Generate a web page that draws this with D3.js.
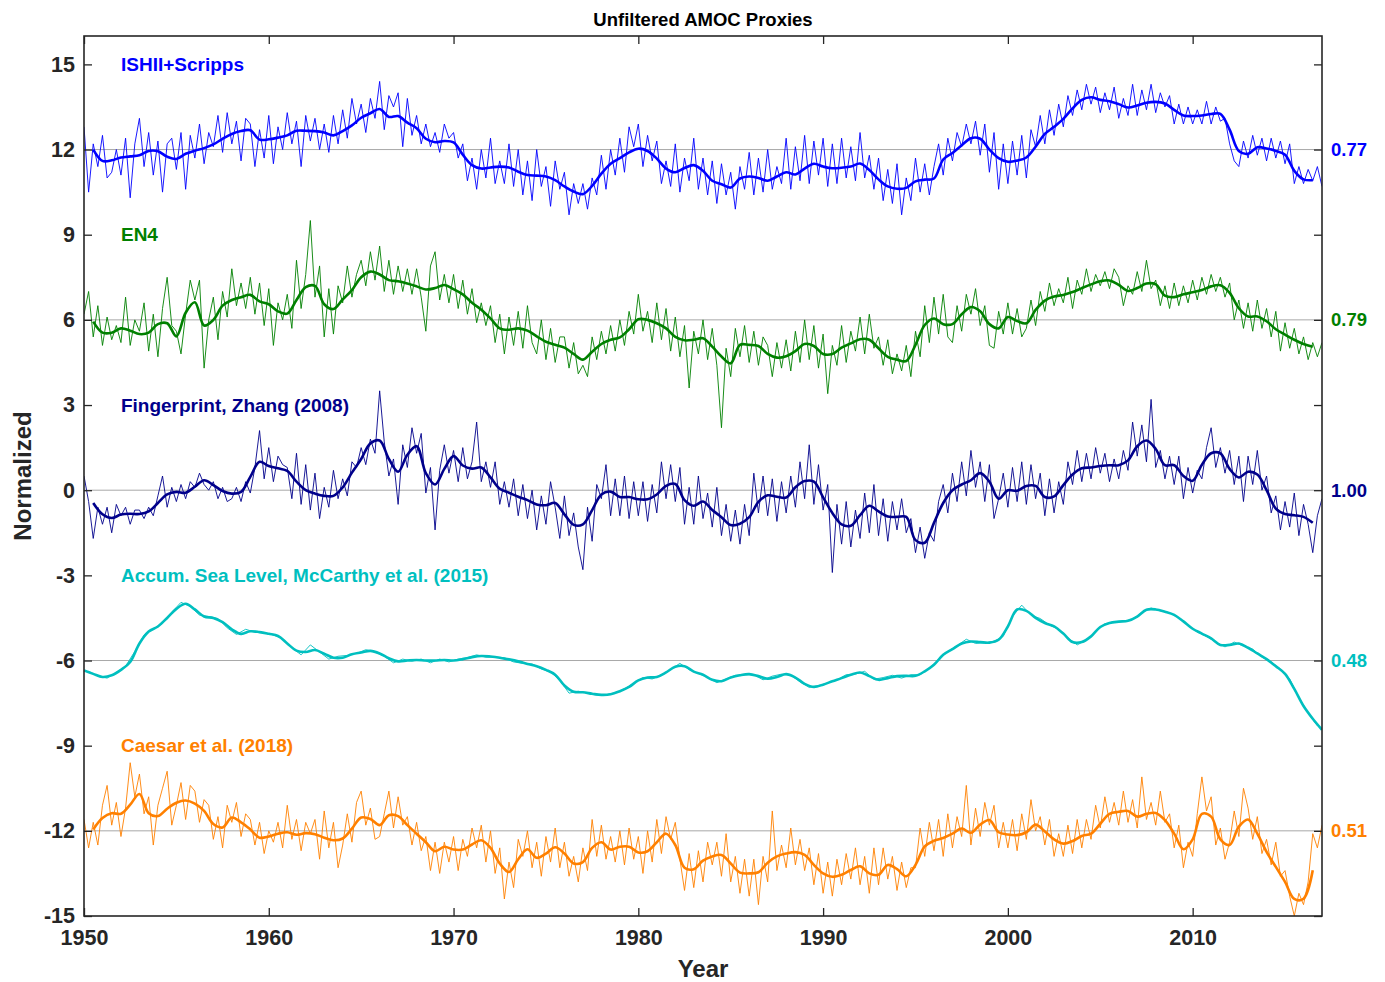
<!DOCTYPE html>
<html>
<head>
<meta charset="utf-8">
<script src="https://cdn.jsdelivr.net/npm/d3@7"></script>
<style>
body { margin: 0; background: #fff; }
text { font-family: "Liberation Sans", Arial, Helvetica, sans-serif; font-weight: bold; }
</style>
</head>
<body>
<svg id="chart" width="1385" height="982"></svg>
<script>
// proxy names, vertical offsets and the correlations written on the right
var names = ["ISHII+Scripps", "EN4", "Fingerprint, Zhang (2008)", "Accum. Sea Level, McCarthy et al. (2015)", "Caesar et al. (2018)"];
var offsets = [12, 6, 0, -6, -12];
var corrLabels = ["0.77", "0.79", "1.00", "0.48", "0.51"];
var yTicks = [-15, -12, -9, -6, -3, 0, 3, 6, 9, 12, 15];
var xTicks = [1950, 1960, 1970, 1980, 1990, 2000, 2010];

// raw series, 4 values a year from 1950.0 (normalized, before offset)
var ishiiRaw = [
 0.8,-1.5,0.2,-0.6, 0.5,-1.0,-0.8,0.0, -0.9,0.4,-1.7,0.2, 1.1,-0.6,0.6,-0.9, 0.3,-1.5,0.2,0.4,
 -0.7,0.6,-1.4,0.5, -0.3,0.9,-0.5,0.6, 0.1,1.2,-0.1,1.3, 0.2,1.0,-0.4,1.1, 0.9,-0.6,0.7,-0.3,
 1.2,-0.5,0.8,0.0, 1.3,0.2,1.0,-0.6, 1.2,0.3,1.1,0.0, 0.9,-0.1,1.2,0.2, 1.4,0.4,1.8,0.9,
 1.6,0.6,1.8,1.1, 2.4,0.7,1.9,1.5, 2.0,0.1,1.8,0.5, 1.2,0.2,0.9,0.1, 0.6,-0.1,0.9,0.4,
 0.6,-0.3,0.2,-1.1, -0.3,-1.4,0.0,-1.0, 0.4,-1.2,-0.4,-1.2, 0.2,-1.3,0.0,-1.6, -0.4,-1.8,0.0,-1.3,
 -0.6,-2.0,-0.4,-1.4, -0.8,-2.3,-1.2,-1.9, -1.2,-2.1,-1.0,-1.6, -0.2,-1.4,0.0,-0.9, 0.4,-0.8,0.8,0.1,
 0.9,-0.6,0.5,-0.4, 0.3,-1.2,-0.4,-1.3, 0.2,-1.5,-0.3,-1.1, 0.4,-1.4,-0.3,-1.6, -0.4,-1.9,-0.5,-1.6,
 -0.8,-2.1,-0.6,-1.4, -0.1,-1.6,-0.3,-1.5, 0.0,-1.4,-0.6,-1.2, 0.4,-1.4,0.1,-1.1, 0.5,-1.2,0.3,-0.9,
 0.4,-1.3,0.2,-1.2, 0.4,-1.0,0.1,-1.1, 0.6,-1.0,-0.2,-1.4, -0.3,-1.8,-0.7,-1.9, -0.5,-2.3,-1.0,-1.8,
 -0.3,-1.5,-0.5,-1.6, -0.6,0.2,-0.9,0.4, -0.4,0.6,0.1,0.9, 0.2,1.0,-0.2,0.9, -0.8,0.6,-1.4,0.2,
 -1.2,0.3,-0.9,0.5, -1.0,0.7,0.1,1.2, 0.2,1.4,0.5,1.6, 0.8,1.9,1.2,2.1, 1.4,2.3,1.6,2.2,
 1.3,2.0,1.4,2.2, 1.1,1.8,1.2,2.3, 1.2,2.1,1.4,2.3, 1.3,2.0,1.5,1.9, 0.9,1.6,0.9,1.5,
 0.9,1.4,0.9,1.7, 0.9,1.5,1.0,1.1, 0.2,-0.4,-0.6,0.3, -0.3,0.5,-0.2,0.4, -0.4,0.4,-0.3,0.3,
 -0.5,0.2,-1.2,-0.6, -1.2,-0.7,-1.1,-0.6, -1.3
];
var en4Raw = [
 0.2,1.0,-0.6,0.5, -0.9,0.1,-0.7,-0.2, -0.8,0.8,-0.9,0.0, -0.4,0.6,-1.1,0.2, -1.3,0.4,1.5,-0.2,
 -0.4,-1.2,0.2,1.4, 0.7,1.4,-1.7,0.0, 0.8,-0.7,1.0,0.1, 1.8,0.5,1.3,0.4, 1.5,0.2,1.3,-0.2,
 1.1,-0.9,0.6,0.0, 0.9,-0.3,2.1,0.4, 1.6,3.5,0.8,1.9, -0.6,1.1,-0.5,1.2, 0.6,1.9,0.8,1.6,
 2.1,1.2,2.4,1.4, 2.6,1.0,2.1,0.9, 1.9,1.0,1.8,0.9, 1.8,0.8,-0.4,1.9, 2.4,0.7,1.6,0.6,
 1.6,0.4,1.4,0.2, 1.1,-0.1,0.6,-0.2, 0.5,-0.8,0.2,-1.2, 0.1,-0.9,0.3,-1.0, 0.5,-0.8,-1.2,0.0,
 -1.4,-0.3,-1.5,-0.6, -0.6,-1.7,-0.8,-1.9, -1.6,-2.0,-0.6,-1.4, -0.4,-1.2,-0.2,-1.1, 0.0,-0.9,0.3,-0.5,
 0.9,-0.4,0.3,-0.8, 0.6,-0.7,0.4,-1.1, 0.1,-1.3,-0.2,-2.4, -0.4,-1.2,0.0,-1.4, -0.3,-1.6,-3.8,-1.0,
 -2.0,-0.3,-1.3,-0.2, -1.5,-0.4,-1.6,-0.6, -0.9,-2.0,-0.8,-1.7, -0.7,-1.8,-0.4,-1.5, 0.0,-1.4,-0.2,-1.7,
 -0.5,-2.6,-0.9,-1.6, -0.2,-1.5,-0.4,-1.1, 0.1,-1.2,0.2,-1.0, -0.6,-1.6,-0.7,-1.9, -1.2,-1.8,-0.9,-2.0,
 -0.4,-1.3,0.5,-0.8, 0.8,-0.5,0.9,-0.6, -0.8,0.5,-0.4,0.9, 0.2,1.1,-0.2,0.5, -0.9,-1.0,0.3,-0.5,
 0.6,-0.5,0.4,-0.6, -0.3,0.7,-0.2,1.0, 0.3,1.3,0.5,1.1, 0.6,1.5,0.4,1.4, 0.9,1.8,1.0,1.6,
 1.2,1.7,1.1,1.8, 1.5,0.5,1.2,0.9, 1.7,1.0,2.1,1.1, 1.4,0.5,1.2,0.4, 1.3,0.5,1.2,0.6,
 1.4,0.7,1.5,0.9, 1.6,1.0,1.5,0.8, 1.3,0.0,0.7,-0.3, 0.6,-0.4,0.7,-0.3, 0.4,-0.6,0.3,-1.1,
 -0.1,-1.0,-0.3,-1.2, -0.6,-1.4,-0.8,-1.3, -0.8
];
var fingerprintRaw = [
 0.5,-0.4,-1.7,-0.6, -1.2,-0.6,-1.5,-0.5, -0.9,-0.6,-1.2,-0.7, -0.7,-1.0,-0.6,-0.9, -0.2,0.5,-0.6,0.1,
 -0.4,0.2,-0.3,0.3, 0.1,0.6,0.2,0.0, 0.3,-0.3,0.1,-0.4, -0.3,0.1,-0.4,0.3, -0.1,0.8,2.1,0.4,
 1.5,0.3,1.2,0.9, 0.8,-0.3,1.3,-0.5, 0.9,-0.7,0.6,-1.0, 0.1,-0.6,0.7,-0.3, 0.4,-0.2,1.0,0.8,
 1.5,0.9,1.8,1.3, 3.5,1.7,0.5,1.1, -0.5,1.6,0.8,2.2, 1.3,2.0,-0.1,0.8, -1.4,0.7,1.6,0.6,
 1.4,0.3,1.5,0.4, 1.0,2.4,0.3,1.0, 0.1,1.0,-0.5,0.3, -0.6,0.4,-0.9,0.2, -1.0,0.0,-1.4,-0.2,
 -1.2,0.3,-0.6,-1.7, -0.2,-1.6,-0.8,-2.0, -2.8,-0.6,-1.8,0.2, -0.3,0.9,-0.9,0.4, -0.9,0.5,-1.0,0.3,
 -0.9,0.3,-1.1,0.2, -0.8,1.0,-0.3,0.9, -0.4,0.8,-1.2,0.1, -1.2,0.5,-1.0,-0.1, -1.3,0.1,-1.6,-0.5,
 -1.8,-0.7,-1.9,-0.5, -1.6,0.6,-0.8,0.5, -0.9,0.4,-1.1,0.3, -0.8,0.5,-0.6,1.0, -0.3,1.6,-0.5,0.9,
 -0.7,0.2,-2.9,-0.5, -1.9,-0.4,-2.0,-0.7, -1.7,-0.1,-1.5,0.2, -1.6,-0.3,-1.8,-0.4, -1.4,-0.3,-1.5,-1.0,
 -2.2,-1.3,-2.4,-1.5, -1.8,-0.4,0.2,-0.8, 0.6,-0.4,1.0,-0.2, 1.4,0.1,1.0,-0.4, 0.9,-1.0,-0.3,0.6,
 -0.6,0.8,-0.4,1.0, -0.5,0.9,-0.3,0.6, -0.9,0.4,-0.8,0.3, -0.5,1.0,0.2,1.4, 0.3,1.3,0.4,1.5,
 0.6,1.3,0.3,1.1, 0.4,1.4,0.7,2.4, 1.2,2.3,1.0,3.2, 0.8,1.4,0.4,1.2, 0.2,1.2,-0.3,0.8,
 -0.1,0.7,0.4,1.5, 2.2,0.8,1.5,0.6, 1.4,0.2,1.2,-0.4, 1.2,0.2,1.4,0.0, 0.5,-0.8,-0.2,-1.4,
 -0.4,-1.3,-0.1,-1.6, -0.5,-1.2,-2.2,-0.9, -0.3
];
// sea level raw, 2 values a year from 1950.25
var seaLevelRaw = [
 -0.38,-0.55, -0.62,-0.42, -0.2,0.32, 0.9,1.12, 1.3,1.7, 2.05,1.9, 1.6,1.55, 1.48,1.15, 0.92,1.1, 1.0,0.98,
 0.9,0.75, 0.45,0.2, 0.55,0.3, 0.05,0.15, 0.18,0.25, 0.38,0.3, 0.15,-0.08, 0.05,-0.02, 0.05,-0.08, 0.05,-0.05,
 0.05,0.1, 0.2,0.12, 0.12,0.1, -0.05,-0.1, -0.12,-0.3, -0.4,-0.7, -1.15,-1.08, -1.15,-1.22, -1.2,-1.14, -1.0,-0.8,
 -0.6,-0.65, -0.5,-0.32, -0.1,-0.32, -0.45,-0.6, -0.78,-0.65, -0.52,-0.5, -0.5,-0.68, -0.55,-0.48, -0.52,-0.75, -0.95,-0.88,
 -0.8,-0.68, -0.5,-0.48, -0.38,-0.66, -0.6,-0.52, -0.62,-0.5, -0.5,-0.28, 0.05,0.32, 0.52,0.75, 0.6,0.62, 0.68,0.85,
 1.55,1.95, 1.6,1.48, 1.25,1.1, 0.8,0.55, 0.72,1.0, 1.3,1.35, 1.38,1.45, 1.7,1.85, 1.75,1.68, 1.5,1.25,
 1.0,0.85, 0.65,0.48, 0.65,0.5, 0.4,0.12, -0.05,-0.3, -0.65,-1.3, -1.85,-2.3
];
var caesarRaw = [
 0.4,-0.6,0.3,-0.5, 0.9,1.6,0.2,1.0, -0.2,0.8,2.4,1.2, 2.0,0.6,1.2,-0.5, 0.9,1.5,2.1,0.2,
 0.9,1.7,0.4,1.6, 1.4,0.3,1.1,0.9, -0.3,0.5,-0.6,0.9, 0.3,1.0,-0.2,0.6, 0.4,-0.5,0.3,-0.8,
 0.0,-0.4,0.3,-0.6, 0.9,-0.3,0.4,-0.7, 0.3,-0.1,0.4,-1.0, 0.7,-0.6,0.3,-1.3, -0.5,0.6,-0.4,1.0,
 1.4,0.2,0.8,-0.3, -0.2,0.6,1.4,0.1, 1.2,0.2,0.5,-0.5, 0.3,-0.7,-0.2,-1.4, -0.4,-1.5,-0.4,-1.1,
 -0.2,-1.4,-0.3,-0.9, 0.1,-0.6,0.2,-1.1, 0.0,-1.5,-0.6,-2.4, -1.1,-2.0,-0.3,-0.9, 0.0,-1.3,-0.4,-1.6,
 -0.2,-1.1,0.1,-1.3, -0.4,-1.6,-0.9,-1.8, -0.6,-1.4,0.4,-0.9, 0.2,-1.0,-0.2,-1.1, 0.0,-1.2,0.1,-1.0,
 -0.2,-1.5,0.0,-1.1, 0.4,-0.8,0.5,-0.3, 0.3,-1.0,-2.1,-0.8, -2.0,-0.7,-1.8,-0.4, -1.2,-0.4,-1.6,-0.1,
 -1.8,-0.9,-2.2,-1.0, -2.3,-1.0,-2.6,-0.9, -1.8,0.7,-1.4,-0.5, -1.3,0.1,-1.2,-0.3, -1.4,-0.6,-1.9,-0.8,
 -2.2,-1.1,-2.3,-1.0, -1.9,-0.8,-1.7,-0.6, -1.9,-0.9,-2.2,-0.6, -1.9,-0.6,-1.7,-0.9, -2.1,-1.1,-2.0,-1.3,
 -1.3,0.1,-0.9,0.3, -0.7,0.4,-0.9,0.6, -0.6,0.5,-0.2,1.6, -0.5,0.8,-0.2,1.0, 0.2,0.9,-0.6,0.3,
 -0.6,0.4,-0.7,0.6, -0.3,1.1,0.0,0.5, -0.5,0.4,-0.9,-0.1, -0.9,0.2,-0.8,0.4, -0.6,0.4,-0.3,0.9,
 0.1,1.2,0.3,1.0, 0.2,1.4,0.3,1.1, 0.1,1.9,0.4,1.0, 0.2,1.4,0.3,0.6, -0.6,0.2,-1.3,-0.4,
 -0.9,0.6,1.9,0.7, 1.2,-0.5,0.1,-1.0, -0.4,0.7,-0.2,1.5, 0.8,-0.3,0.5,-0.8, -0.3,-1.2,-0.4,-1.6,
 -1.4,-2.3,-3.0,-2.2, -2.6,-1.8,-0.1,-0.6, 0.2
];

// smoothed series, 2 values a year from 1950.5 (sea level from 1950.0)
var ishiiSmooth = [
 0.0, -0.4,-0.38, -0.28,-0.24, -0.2,-0.05, -0.06,-0.25, -0.33,-0.15, -0.04,0.05, 0.18,0.38, 0.55,0.65, 0.68,0.35,
 0.36,0.42, 0.5,0.66, 0.66,0.65, 0.6,0.5, 0.65,0.85, 1.12,1.28, 1.43,1.15, 1.18,0.95, 0.75,0.38, 0.26,0.3,
 0.25,-0.18, -0.55,-0.67, -0.63,-0.6, -0.63,-0.78, -0.9,-0.92, -0.95,-1.08, -1.3,-1.48, -1.57,-1.28, -0.85,-0.5, -0.3,-0.1,
 0.03,-0.05, -0.32,-0.67, -0.8,-0.65, -0.55,-0.75, -1.1,-1.22, -1.34,-1.02, -0.95,-1.0, -1.1,-0.95, -0.8,-0.88, -0.67,-0.5,
 -0.6,-0.66, -0.64,-0.6, -0.49,-0.72, -1.05,-1.3, -1.38,-1.35, -1.12,-1.06, -1.02,-0.35, -0.12,0.15, 0.4,0.38, 0.0,-0.3,
 -0.43,-0.39, -0.28,0.1, 0.55,0.8, 1.08,1.45, 1.75,1.84, 1.75,1.7, 1.6,1.48, 1.55,1.65, 1.68,1.62, 1.4,1.2,
 1.18,1.2, 1.25,1.26, 0.7,-0.05, -0.15,0.08, 0.04,-0.05, -0.18,-0.75, -1.05,-1.08
];
var en4Smooth = [
 -0.06, -0.45,-0.45, -0.3,-0.38, -0.5,-0.45, -0.15,-0.12, -0.58,0.25, 0.62,-0.2, 0.0,0.5, 0.7,0.8, 0.88,0.65,
 0.55,0.3, 0.22,0.7, 1.15,1.2, 0.55,0.38, 0.72,1.05, 1.5,1.7, 1.6,1.4, 1.36,1.28, 1.18,1.07, 1.12,1.23,
 1.08,0.9, 0.6,0.36, 0.05,-0.3, -0.35,-0.3, -0.38,-0.58, -0.77,-0.88, -0.98,-1.2, -1.4,-1.12, -0.85,-0.7, -0.62,-0.33,
 0.02,0.0, -0.12,-0.3, -0.6,-0.72, -0.7,-0.65, -0.94,-1.29, -1.53,-0.88, -0.88,-0.92, -1.2,-1.33, -1.28,-1.1, -0.85,-0.92,
 -1.2,-1.2, -0.98,-0.83, -0.68,-0.7, -1.0,-1.3, -1.4,-1.45, -0.88,-0.18, 0.05,-0.15, -0.15,0.2, 0.45,0.3, -0.15,-0.3,
 0.1,-0.04, -0.12,0.35, 0.68,0.82, 0.88,0.98, 1.12,1.25, 1.36,1.39, 1.23,1.02, 1.12,1.28, 1.25,0.85, 0.8,0.9,
 0.97,1.05, 1.18,1.22, 0.95,0.41, 0.12,0.12, -0.05,-0.33, -0.52,-0.7, -0.85,-0.95
];
var fingerprintSmooth = [
 -0.45, -0.85,-0.98, -0.86,-0.83, -0.84,-0.75, -0.45,-0.15, -0.06,-0.09, 0.12,0.35, 0.18,-0.03, -0.12,-0.06, 0.47,1.0,
 0.85,0.77, 0.68,0.3, 0.0,-0.12, -0.2,-0.2, 0.1,0.62, 1.1,1.65, 1.75,1.1, 0.65,1.25, 1.55,0.6, 0.2,0.75,
 1.2,0.87, 0.76,0.8, 0.45,0.05, -0.09,-0.23, -0.35,-0.5, -0.53,-0.45, -0.85,-1.22, -1.2,-0.7, -0.15,-0.05, -0.24,-0.24,
 -0.32,-0.32, -0.15,0.15, 0.22,-0.35, -0.55,-0.4, -0.7,-0.95, -1.23,-1.18, -0.95,-0.41, -0.18,-0.23, -0.26,0.1, 0.32,0.3,
 -0.25,-0.8, -1.2,-1.25, -0.88,-0.55, -0.75,-0.93, -0.94,-0.94, -1.76,-1.85, -1.15,-0.45, 0.0,0.2, 0.35,0.6, 0.3,-0.3,
 0.0,-0.02, 0.15,0.15, -0.24,-0.22, 0.18,0.55, 0.77,0.8, 0.85,0.88, 0.88,1.05, 1.55,1.75, 1.45,0.88, 0.88,0.5,
 0.33,0.9, 1.3,1.3, 0.75,0.45, 0.65,0.55, 0.0,-0.65, -0.84,-0.88, -0.94,-1.15
];
var seaLevelSmooth = [
 -0.35,-0.47, -0.58,-0.52, -0.33,-0.05, 0.6,1.02, 1.2,1.5, 1.82,2.0, 1.8,1.55, 1.5,1.35, 1.1,0.94, 1.03,1.0,
 0.94,0.87, 0.6,0.35, 0.3,0.37, 0.24,0.1, 0.1,0.22, 0.28,0.34, 0.25,0.08, -0.03,0.0, 0.02,0.0, 0.0,0.02,
 0.0,0.05, 0.12,0.16, 0.14,0.1, 0.04,-0.03, -0.12,-0.2, -0.33,-0.5, -0.88,-1.1, -1.12,-1.17, -1.21,-1.19, -1.08,-0.93,
 -0.7,-0.6, -0.58,-0.42, -0.22,-0.2, -0.39,-0.5, -0.68,-0.73, -0.6,-0.52, -0.48,-0.55, -0.64,-0.58, -0.48,-0.6, -0.82,-0.93,
 -0.85,-0.73, -0.62,-0.5, -0.42,-0.55, -0.68,-0.62, -0.55,-0.54, -0.54,-0.38, -0.15,0.2, 0.4,0.6, 0.67,0.65, 0.63,0.73,
 1.2,1.8, 1.75,1.5, 1.32,1.2, 0.95,0.65, 0.65,0.85, 1.18,1.32, 1.37,1.4, 1.55,1.79, 1.8,1.72, 1.61,1.38,
 1.12,0.95, 0.78,0.55, 0.55,0.6, 0.45,0.25, 0.05,-0.2, -0.47,-1.0, -1.6,-2.05, -2.44
];
var caesarSmooth = [
 0.05, 0.45,0.62, 0.6,0.92, 1.3,0.62, 0.52,0.78, 0.99,1.07, 0.96,0.7, 0.24,0.12, 0.47,0.3, 0.05,-0.24,
 -0.2,-0.1, -0.05,-0.14, -0.08,-0.12, -0.24,-0.33, -0.27,0.08, 0.47,0.42, 0.2,0.55, 0.52,0.2, -0.1,-0.4, -0.72,-0.56,
 -0.66,-0.66, -0.48,-0.33, -0.6,-1.15, -1.45,-1.0, -0.65,-0.95, -0.8,-0.58, -0.8,-1.15, -1.1,-0.6, -0.4,-0.66, -0.56,-0.56,
 -0.76,-0.72, -0.4,-0.1, -0.5,-1.3, -1.35,-1.05, -0.9,-0.85, -1.15,-1.47, -1.5,-1.46, -1.12,-0.9, -0.8,-0.75, -0.85,-1.2,
 -1.5,-1.62, -1.55,-1.38, -1.25,-1.5, -1.55,-1.2, -1.35,-1.6, -1.2,-0.55, -0.35,-0.25, -0.1,0.08, -0.07,0.22, 0.38,-0.05,
 -0.13,-0.15, -0.05,0.22, -0.02,-0.3, -0.45,-0.36, -0.18,-0.1, 0.25,0.6, 0.67,0.7, 0.5,0.6, 0.63,0.38, -0.1,-0.65,
 -0.3,0.6, 0.5,-0.3, -0.5,0.15, 0.4,-0.1, -0.74,-1.27, -1.8,-2.4, -2.39,-1.39
];

var colors = ["#0000ff", "#008000", "#00008b", "#00bfbf", "#ff8000"];

var series = [
  { raw: ishiiRaw, rawStart: 1950, rawStep: 0.25, smooth: ishiiSmooth, smStart: 1950.5 },
  { raw: en4Raw, rawStart: 1950, rawStep: 0.25, smooth: en4Smooth, smStart: 1950.5 },
  { raw: fingerprintRaw, rawStart: 1950, rawStep: 0.25, smooth: fingerprintSmooth, smStart: 1950.5 },
  { raw: seaLevelRaw, rawStart: 1950.25, rawStep: 0.5, smooth: seaLevelSmooth, smStart: 1950 },
  { raw: caesarRaw, rawStart: 1950, rawStep: 0.25, smooth: caesarSmooth, smStart: 1950.5 }
];

var svg = d3.select("#chart");
var plotL = 84, plotR = 1322, plotT = 36, plotB = 916;
var axisColor = "#262626";

var x = d3.scaleLinear().domain([1950, 2017]).range([plotL, plotR]);
var y = d3.scaleLinear().domain([-15, 16]).range([plotB, plotT]);

svg.append("defs").append("clipPath").attr("id", "plotclip")
  .append("rect").attr("x", plotL).attr("y", plotT).attr("width", plotR - plotL).attr("height", plotB - plotT);

// gray zero lines of every proxy
svg.append("g").selectAll("line")
  .data(offsets)
  .enter().append("line")
  .attr("x1", plotL).attr("x2", plotR)
  .attr("y1", d => y(d)).attr("y2", d => y(d))
  .attr("stroke", "#a8a8a8").attr("stroke-width", 1);

var plot = svg.append("g").attr("clip-path", "url(#plotclip)");

series.forEach(function (s, i) {
  var rawPts = s.raw.map((v, k) => [s.rawStart + k * s.rawStep, v + offsets[i]]);
  var smPts = s.smooth.map((v, k) => [s.smStart + k * 0.5, v + offsets[i]]);
  var line = d3.line().x(d => x(d[0])).y(d => y(d[1]));
  plot.append("path").datum(rawPts)
    .attr("d", line)
    .attr("fill", "none").attr("stroke", colors[i]).attr("stroke-width", 0.9)
    .attr("stroke-linejoin", "round");
  plot.append("path").datum(smPts)
    .attr("d", line.curve(d3.curveCatmullRom))
    .attr("fill", "none").attr("stroke", colors[i]).attr("stroke-width", 2.6)
    .attr("stroke-linejoin", "round");
});

// proxy names and correlations
svg.append("g").selectAll("text")
  .data(names)
  .enter().append("text")
  .attr("x", x(1952)).attr("y", (d, i) => y(offsets[i] + 3))
  .attr("dominant-baseline", "central")
  .attr("font-size", 19).attr("fill", (d, i) => colors[i])
  .text(d => d);

svg.append("g").selectAll("text")
  .data(corrLabels)
  .enter().append("text")
  .attr("x", plotR + 9).attr("y", (d, i) => y(offsets[i]))
  .attr("dominant-baseline", "central")
  .attr("font-size", 18.5).attr("fill", (d, i) => colors[i])
  .text(d => d);

// axes, ticks inside the box
function styleAxis(g) {
  g.select(".domain").remove();
  g.selectAll("line").attr("stroke", axisColor).attr("stroke-width", 1.3);
  g.selectAll("text").attr("fill", axisColor).attr("font-size", 21.5)
    .attr("font-family", "Liberation Sans, Arial, sans-serif").attr("font-weight", "bold");
}
svg.append("g").attr("transform", `translate(${plotL},0)`)
  .call(d3.axisLeft(y).tickValues(yTicks).tickSize(-8).tickPadding(9).tickFormat(d => String(d)))
  .call(styleAxis);
svg.append("g").attr("transform", `translate(${plotR},0)`)
  .call(d3.axisRight(y).tickValues(yTicks).tickSize(-8).tickFormat(""))
  .call(styleAxis);
svg.append("g").attr("transform", `translate(0,${plotB})`)
  .call(d3.axisBottom(x).tickValues(xTicks).tickSize(-8).tickPadding(14).tickFormat(d => String(d)))
  .call(styleAxis);
svg.append("g").attr("transform", `translate(0,${plotT})`)
  .call(d3.axisTop(x).tickValues(xTicks).tickSize(-8).tickFormat(""))
  .call(styleAxis);

svg.append("rect")
  .attr("x", plotL).attr("y", plotT).attr("width", plotR - plotL).attr("height", plotB - plotT)
  .attr("fill", "none").attr("stroke", axisColor).attr("stroke-width", 1.6);

svg.append("text")
  .attr("x", (plotL + plotR) / 2).attr("y", 19)
  .attr("text-anchor", "middle").attr("dominant-baseline", "central")
  .attr("font-size", 18.5).attr("fill", "#000")
  .text("Unfiltered AMOC Proxies");

svg.append("text")
  .attr("x", (plotL + plotR) / 2).attr("y", 968)
  .attr("text-anchor", "middle").attr("dominant-baseline", "central")
  .attr("font-size", 24).attr("fill", axisColor)
  .text("Year");

svg.append("text")
  .attr("transform", `translate(22,${(plotT + plotB) / 2}) rotate(-90)`)
  .attr("text-anchor", "middle").attr("dominant-baseline", "central")
  .attr("font-size", 24).attr("fill", axisColor)
  .text("Normalized");
</script>
</body>
</html>
